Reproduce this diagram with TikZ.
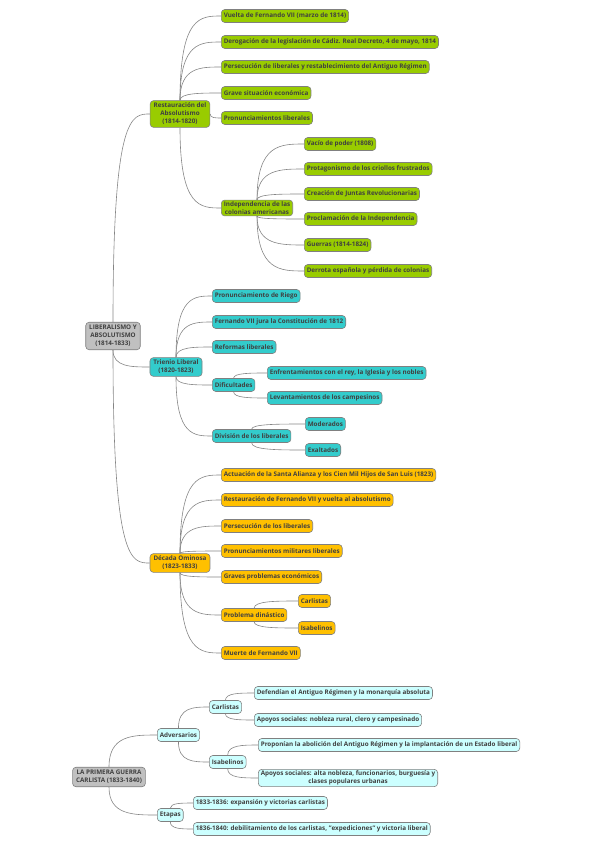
\documentclass[tikz,border=0pt]{standalone}
\usepackage{fontspec}
\setmainfont{Open Sans}
\usepackage{xcolor}
\usetikzlibrary{positioning,calc}

\definecolor{rootgray}{HTML}{C0C0C0}
\definecolor{restgreen}{HTML}{99CC00}
\definecolor{triteal}{HTML}{33CCCC}
\definecolor{decgold}{HTML}{FFC000}
\definecolor{warcyan}{HTML}{CCFFFF}

\tikzset{
  topic/.style={draw=black!50, line width=0.6pt, rounded corners=3.5pt,
    font=\fontsize{6.3}{8}\selectfont\bfseries, text=black!75,
    inner xsep=2.5pt, inner ysep=1.5pt, minimum height=13pt, align=center},
  rootbox/.style={topic, fill=rootgray, inner xsep=3.5pt, inner ysep=3pt},
  mainbox/.style={topic, inner xsep=3.5pt, inner ysep=2.5pt},
  restbox/.style={topic, fill=restgreen},
  tribox/.style={topic, fill=triteal},
  decbox/.style={topic, fill=decgold},
  warbox/.style={topic, fill=warcyan},
  link/.style={draw=black!48, line width=0.6pt},
  branch/.style={to path={.. controls (\tikztostart |- \tikztotarget)
      and ($(\tikztostart |- \tikztotarget)!0.5!(\tikztotarget)$) .. (\tikztotarget)}}
}

\begin{document}
\begin{tikzpicture}[x=1pt, y=-1pt]
\useasboundingbox (0,0) rectangle (599,848);

% Root: Liberalismo y absolutismo
\node[rootbox] (lib) at (113,336) {LIBERALISMO Y\\ABSOLUTISMO\\(1814-1833)};

% Restauracion del absolutismo
\node[restbox, mainbox] (rest) at (180,114) {Restauración del\\Absolutismo\\(1814-1820)};
\node[restbox, anchor=west] (vuelta) at (221,16) {Vuelta de Fernando VII (marzo de 1814)};
\node[restbox, anchor=west] (derog) at (221,42) {Derogación de la legislación de Cádiz. Real Decreto, 4 de mayo, 1814};
\node[restbox, anchor=west] (persec) at (221,67) {Persecución de liberales y restablecimiento del Antiguo Régimen};
\node[restbox, anchor=west] (grave) at (221,93) {Grave situación económica};
\node[restbox, anchor=west] (pronlib) at (221,118) {Pronunciamientos liberales};
\node[restbox, anchor=west] (indep) at (221,208) {Independencia de las\\colonias americanas};
\node[restbox, anchor=west] (vacio) at (304,144) {Vacío de poder (1808)};
\node[restbox, anchor=west] (protag) at (304,169) {Protagonismo de los criollos frustrados};
\node[restbox, anchor=west] (juntas) at (304,194) {Creación de Juntas Revolucionarias};
\node[restbox, anchor=west] (proclam) at (304,219) {Proclamación de la Independencia};
\node[restbox, anchor=west] (guerras) at (304,245) {Guerras (1814-1824)};
\node[restbox, anchor=west] (derrota) at (304,271) {Derrota española y pérdida de colonias};

% Trienio liberal
\node[tribox, mainbox] (tri) at (176,367) {Trienio Liberal\\(1820-1823)};
\node[tribox, anchor=west] (riego) at (212,296) {Pronunciamiento de Riego};
\node[tribox, anchor=west] (jura) at (212,322) {Fernando VII jura la Constitución de 1812};
\node[tribox, anchor=west] (reformas) at (212,347) {Reformas liberales};
\node[tribox, anchor=west] (dific) at (212,385) {Dificultades};
\node[tribox, anchor=west] (enfrent) at (267,373) {Enfrentamientos con el rey, la Iglesia y los nobles};
\node[tribox, anchor=west] (levant) at (267,398) {Levantamientos de los campesinos};
\node[tribox, anchor=west] (divis) at (212,436) {División de los liberales};
\node[tribox, anchor=west] (moder) at (305,424) {Moderados};
\node[tribox, anchor=west] (exalt) at (305,450) {Exaltados};

% Decada ominosa
\node[decbox, mainbox] (dec) at (180,563) {Década Ominosa\\(1823-1833)};
\node[decbox, anchor=west] (actua) at (221,475) {Actuación de la Santa Alianza y los Cien Mil Hijos de San Luis (1823)};
\node[decbox, anchor=west] (restfer) at (221,500) {Restauración de Fernando VII y vuelta al absolutismo};
\node[decbox, anchor=west] (perlib) at (221,526) {Persecución de los liberales};
\node[decbox, anchor=west] (pronmil) at (221,551) {Pronunciamientos militares liberales};
\node[decbox, anchor=west] (graves) at (221,577) {Graves problemas económicos};
\node[decbox, anchor=west] (dinast) at (221,615) {Problema dinástico};
\node[decbox, anchor=west] (carl) at (298,601) {Carlistas};
\node[decbox, anchor=west] (isab) at (298,628) {Isabelinos};
\node[decbox, anchor=west] (muerte) at (221,653) {Muerte de Fernando VII};

% Root: Primera guerra carlista
\node[rootbox] (guerra) at (109,777) {LA PRIMERA GUERRA\\CARLISTA (1833-1840)};
\node[warbox, anchor=west] (advers) at (157,735) {Adversarios};
\node[warbox, anchor=west] (carlw) at (209,707) {Carlistas};
\node[warbox, anchor=west] (defend) at (254,693) {Defendían el Antiguo Régimen y la monarquía absoluta};
\node[warbox, anchor=west] (apoyc) at (254,720) {Apoyos sociales: nobleza rural, clero y campesinado};
\node[warbox, anchor=west] (isabw) at (209,762) {Isabelinos};
\node[warbox, anchor=west] (propon) at (258,745) {Proponían la abolición del Antiguo Régimen y la implantación de un Estado liberal};
\node[warbox, anchor=west] (apoyi) at (258,778) {Apoyos sociales: alta nobleza, funcionarios, burguesía y\\clases populares urbanas};
\node[warbox, anchor=west] (etapas) at (157,815) {Etapas};
\node[warbox, anchor=west] (eta1) at (193,803) {1833-1836: expansión y victorias carlistas};
\node[warbox, anchor=west] (eta2) at (193,829) {1836-1840: debilitamiento de los carlistas, "expediciones" y victoria liberal};

% Branches going up (from the top of the parent)
\foreach \from/\to in {lib/rest, rest/vuelta, rest/derog, rest/persec, rest/grave,
    indep/vacio, indep/protag, indep/juntas, tri/riego, tri/jura, tri/reformas,
    dific/enfrent, divis/moder, dec/actua, dec/restfer, dec/perlib, dec/pronmil,
    dinast/carl, guerra/advers, advers/carlw, carlw/defend, isabw/propon, etapas/eta1}
  \draw[link] (\from.north) to[branch] (\to.west);

% Branches going down (from the bottom of the parent)
\foreach \from/\to in {lib/tri, lib/dec, rest/indep, indep/proclam, indep/guerras,
    indep/derrota, tri/dific, tri/divis, dific/levant, divis/exalt, dec/graves,
    dec/dinast, dec/muerte, dinast/isab, guerra/etapas, advers/isabw,
    carlw/apoyc, isabw/apoyi, etapas/eta2}
  \draw[link] (\from.south) to[branch] (\to.west);

% Side branch
\draw[link] (rest.east) to[branch] (pronlib.west);

\end{tikzpicture}
\end{document}
